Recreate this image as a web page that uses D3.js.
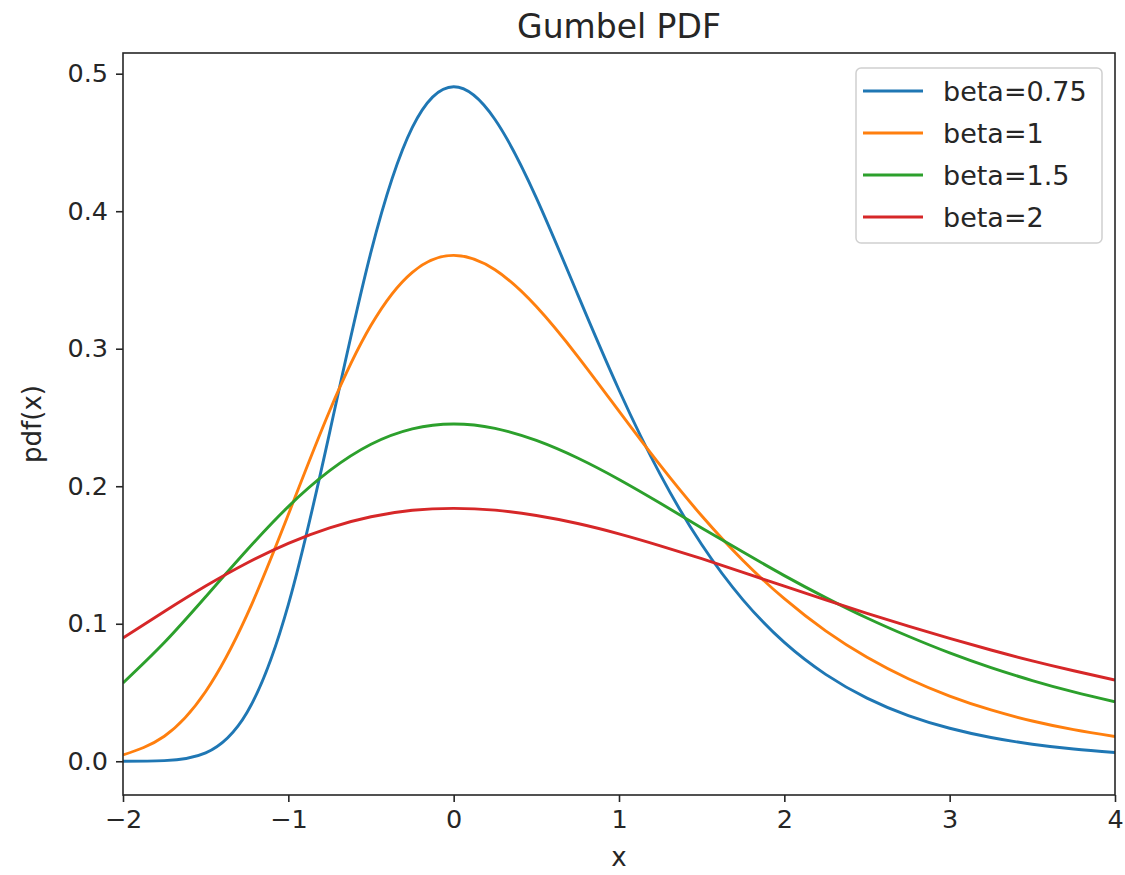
<!DOCTYPE html>
<html><head><meta charset="utf-8">
<script src="https://cdn.jsdelivr.net/npm/d3@7"></script>
<style>body{margin:0;background:#fff}svg{display:block}text{font-family:"DejaVu Sans",sans-serif;fill:#262626}</style>
</head><body><svg id="c" width="1125" height="875"></svg>
<script>
const xValues = [-2,-1.75,-1.5,-1.25,-1,-0.75,-0.5,-0.25,0,0.25,0.5,0.75,1,1.25,1.5,1.75,2,2.25,2.5,2.75,3,3.25,3.5,3.75,4];
const beta075 = [0.0000,0.0005,0.0061,0.0355,0.1139,0.2392,0.3704,0.4609,0.4905,0.4667,0.4097,0.3395,0.2700,0.2084,0.1576,0.1174,0.0864,0.0632,0.0459,0.0332,0.0240,0.0173,0.0124,0.0089,0.0064];
const beta1 = [0.0046,0.0182,0.0507,0.1064,0.1794,0.2549,0.3170,0.3556,0.3679,0.3574,0.3307,0.2945,0.2546,0.2151,0.1785,0.1460,0.1182,0.0948,0.0756,0.0600,0.0474,0.0373,0.0293,0.0230,0.0180];
const beta15 = [0.0569,0.0863,0.1196,0.1536,0.1852,0.2113,0.2305,0.2417,0.2453,0.2421,0.2333,0.2205,0.2049,0.1876,0.1697,0.1521,0.1350,0.1190,0.1042,0.0909,0.0788,0.0681,0.0587,0.0504,0.0432];
const beta2 = [0.0897,0.1089,0.1274,0.1442,0.1585,0.1698,0.1778,0.1825,0.1839,0.1826,0.1787,0.1729,0.1654,0.1567,0.1473,0.1374,0.1273,0.1173,0.1076,0.0982,0.0893,0.0809,0.0730,0.0658,0.0591];
const seriesNames = ["beta=0.75","beta=1","beta=1.5","beta=2"];
const seriesValues = [beta075, beta1, beta15, beta2];
const colors = ["#1f77b4","#ff7f0e","#2ca02c","#d62728"];
const xTicks = [-2,-1,0,1,2,3,4];
const yTicks = [0,0.1,0.2,0.3,0.4,0.5];

const svg = d3.select("#c");
const L=123,R=1115,T=53,B=795;
const x = d3.scaleLinear().domain([-2,4]).range([L,R]);
const y = d3.scaleLinear().domain([-0.02453,0.51505]).range([B,T]);

const fs = 25.5;
const gx = svg.append("g").attr("transform",`translate(0,${B})`)
  .call(d3.axisBottom(x).tickValues(xTicks).tickSize(7).tickPadding(8).tickFormat(d=>d<0?"\u2212"+Math.abs(d):d));
const gy = svg.append("g").attr("transform",`translate(${L},0)`)
  .call(d3.axisLeft(y).tickValues(yTicks).tickSize(7).tickPadding(8).tickFormat(d3.format(".1f")));
[gx,gy].forEach(g=>{g.select(".domain").remove();g.selectAll("line").attr("stroke","#262626").attr("stroke-width",1.6);g.selectAll("text").attr("font-size",fs).attr("font-family","DejaVu Sans").attr("fill","#262626");});

svg.append("clipPath").attr("id","cp").append("rect").attr("x",L).attr("y",T).attr("width",R-L).attr("height",B-T);
const line = d3.line().x((d,i)=>x(xValues[i])).y(d=>y(d)).curve(d3.curveNatural);
seriesValues.forEach((s,k)=>{
  svg.append("path").attr("d",line(s)).attr("fill","none").attr("stroke",colors[k]).attr("stroke-width",2.9).attr("clip-path","url(#cp)");
});

svg.append("rect").attr("x",L).attr("y",T).attr("width",R-L).attr("height",B-T).attr("fill","none").attr("stroke","#262626").attr("stroke-width",1.6);

svg.append("text").attr("x",(L+R)/2).attr("y",38).attr("text-anchor","middle").attr("font-size",33).text("Gumbel PDF");
svg.append("text").attr("x",(L+R)/2).attr("y",866).attr("text-anchor","middle").attr("font-size",26).text("x");
svg.append("text").attr("transform",`translate(41,${(T+B)/2}) rotate(-90)`).attr("text-anchor","middle").attr("font-size",26).text("pdf(x)");

const lg = svg.append("g");
lg.append("rect").attr("x",856).attr("y",68).attr("width",246).attr("height",175).attr("rx",5).attr("fill","#fff").attr("fill-opacity",0.8).attr("stroke","#d0d0d0").attr("stroke-width",1.5);
seriesNames.forEach((n,k)=>{
  const yy = 91 + k*42;
  lg.append("line").attr("x1",863).attr("x2",923).attr("y1",yy).attr("y2",yy).attr("stroke",colors[k]).attr("stroke-width",2.9);
  lg.append("text").attr("x",943).attr("y",yy).attr("dy","0.36em").attr("font-size",27).text(n);
});
</script></body></html>
